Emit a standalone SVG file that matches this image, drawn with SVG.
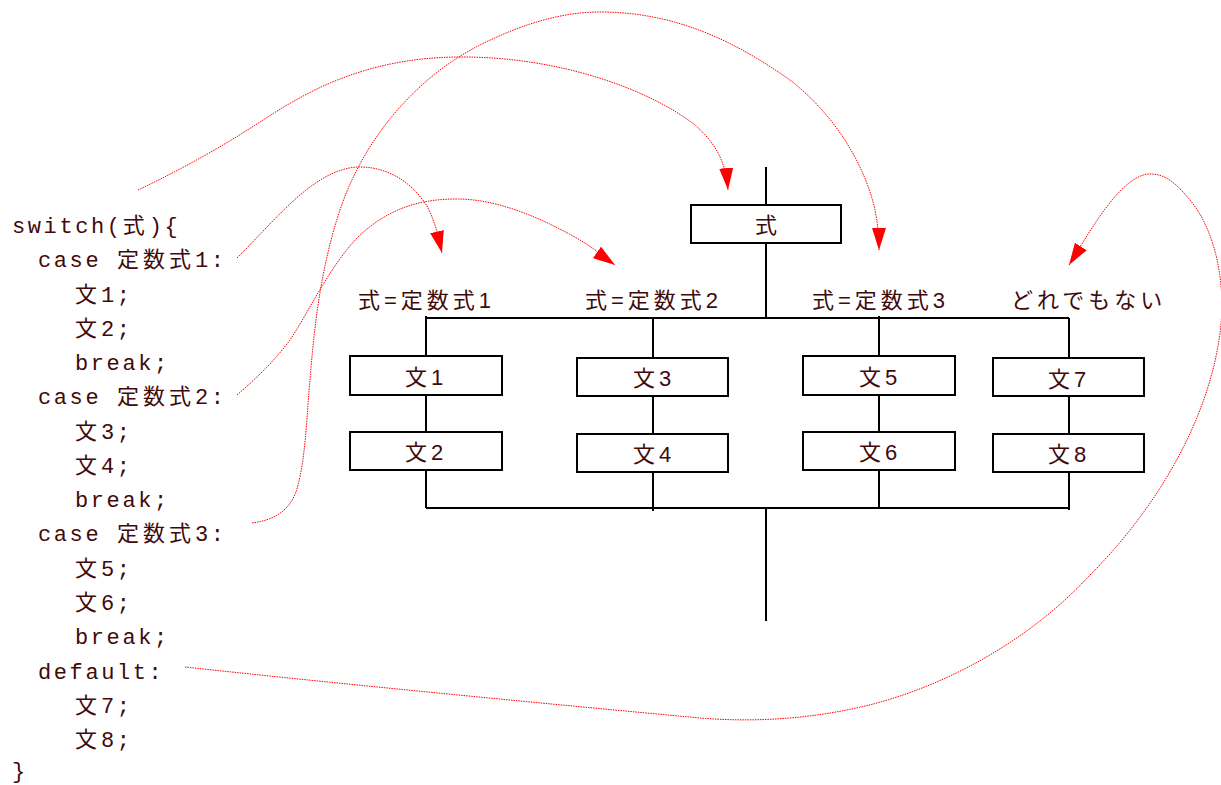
<svg xmlns="http://www.w3.org/2000/svg" width="1221" height="785" viewBox="0 0 1221 785">
<style>
.code{font-family:"Liberation Mono","Noto Sans CJK JP",monospace;font-size:22px;letter-spacing:2.6px;fill:#400a0a}
.cj{letter-spacing:4px}
.lbl{font-family:"Liberation Sans","Noto Sans CJK JP",sans-serif;font-size:22px;letter-spacing:4px;fill:#400a0a}
.box{fill:#fff;stroke:#000;stroke-width:2}
.ln{stroke:#000;stroke-width:2;fill:none}
.cur{stroke:#f00;stroke-width:1;fill:none;stroke-dasharray:1.5 1;marker-end:url(#ah)}
</style>
<defs>
<marker id="ah" markerUnits="userSpaceOnUse" markerWidth="22" markerHeight="14" refX="22" refY="7" orient="auto" viewBox="0 0 22 14">
<path d="M0,0 L22,7 L0,14 Z" fill="#f00"/>
</marker>
</defs>
<rect width="1221" height="785" fill="#fff"/>

<g id="code">
<text class="code" x="12" y="233">switch(<tspan class="cj">式</tspan>){</text>
<text class="code" x="38" y="267">case <tspan class="cj">定数式</tspan>1:</text>
<text class="code" x="75" y="302"><tspan class="cj">文</tspan>1;</text>
<text class="code" x="75" y="336"><tspan class="cj">文</tspan>2;</text>
<text class="code" x="75" y="370">break;</text>
<text class="code" x="38" y="404">case <tspan class="cj">定数式</tspan>2:</text>
<text class="code" x="75" y="439"><tspan class="cj">文</tspan>3;</text>
<text class="code" x="75" y="473"><tspan class="cj">文</tspan>4;</text>
<text class="code" x="75" y="507">break;</text>
<text class="code" x="38" y="541">case <tspan class="cj">定数式</tspan>3:</text>
<text class="code" x="75" y="576"><tspan class="cj">文</tspan>5;</text>
<text class="code" x="75" y="610"><tspan class="cj">文</tspan>6;</text>
<text class="code" x="75" y="644">break;</text>
<text class="code" x="38" y="679">default:</text>
<text class="code" x="75" y="713"><tspan class="cj">文</tspan>7;</text>
<text class="code" x="75" y="747"><tspan class="cj">文</tspan>8;</text>
<text class="code" x="12" y="778">}</text>
</g>

<g id="flow-lines">
<path class="ln" d="M766,167 V205 M766,243 V318 M426,318 H1069 M766,508 V621"/>
<path class="ln" d="M426,316 V356 M426,395 V432 M426,470 V508"/>
<path class="ln" d="M653,318 V358 M653,396 V434 M653,472 V511"/>
<path class="ln" d="M879,316 V356 M879,395 V432 M879,470 V508"/>
<path class="ln" d="M1069,318 V358 M1069,396 V434 M1069,472 V510"/>
<path class="ln" d="M426,508 H1069"/>
</g>

<g id="node-expr">
<rect class="box" x="691" y="205" width="150" height="38"/>
<text class="lbl" x="766" y="233" text-anchor="middle" style="letter-spacing:0">式</text>
</g>
<g id="node-s1"><rect class="box" x="350" y="356" width="152" height="39"/><text class="lbl" x="405" y="385">文1</text></g>
<g id="node-s2"><rect class="box" x="350" y="432" width="152" height="38"/><text class="lbl" x="405" y="460">文2</text></g>
<g id="node-s3"><rect class="box" x="577" y="358" width="151" height="38"/><text class="lbl" x="633" y="386">文3</text></g>
<g id="node-s4"><rect class="box" x="577" y="434" width="151" height="38"/><text class="lbl" x="633" y="462">文4</text></g>
<g id="node-s5"><rect class="box" x="803" y="356" width="152" height="39"/><text class="lbl" x="859" y="385">文5</text></g>
<g id="node-s6"><rect class="box" x="803" y="432" width="152" height="38"/><text class="lbl" x="859" y="460">文6</text></g>
<g id="node-s7"><rect class="box" x="993" y="358" width="151" height="38"/><text class="lbl" x="1048" y="387">文7</text></g>
<g id="node-s8"><rect class="box" x="993" y="434" width="151" height="38"/><text class="lbl" x="1048" y="462">文8</text></g>

<g id="labels">
<text class="lbl" x="358" y="308">式=定数式1</text>
<text class="lbl" x="585" y="308">式=定数式2</text>
<text class="lbl" x="812" y="308">式=定数式3</text>
<text class="lbl" x="1011" y="308">どれでもない</text>
</g>

<g id="connectors">
<path class="cur" d="M138,190 C180,170 220,148 260,122 C300,96 360,58 457,57 C560,56 650,90 695,125 C718,145 726,165 728,190"/>
<path class="cur" d="M237,258 C260,235 280,212 300,195 C320,178 340,167 360,167 C390,167 415,185 428,208 C436,224 438,236 442,253"/>
<path class="cur" d="M237,395 C260,375 275,360 290,340 C310,310 330,265 360,235 C390,208 420,199 457,199 C500,199 545,220 580,240 C595,249 605,258 615,265"/>
<path class="cur" d="M252,523 C275,520 292,510 298,485 C306,455 307,410 310,380 C314,330 320,270 340,210 C365,135 420,75 480,45 C520,25 560,12 600,12 C680,12 740,45 790,80 C835,115 865,165 875,210 C878,225 879,238 879,250"/>
<path class="cur" d="M185,667 C350,685 560,705 700,718 C760,723 820,718 877,703 C950,683 1030,640 1090,575 C1150,515 1205,430 1219,340 C1228,285 1215,230 1190,200 C1175,182 1165,174 1150,174 C1120,174 1085,240 1069,265"/>
</g>
</svg>
